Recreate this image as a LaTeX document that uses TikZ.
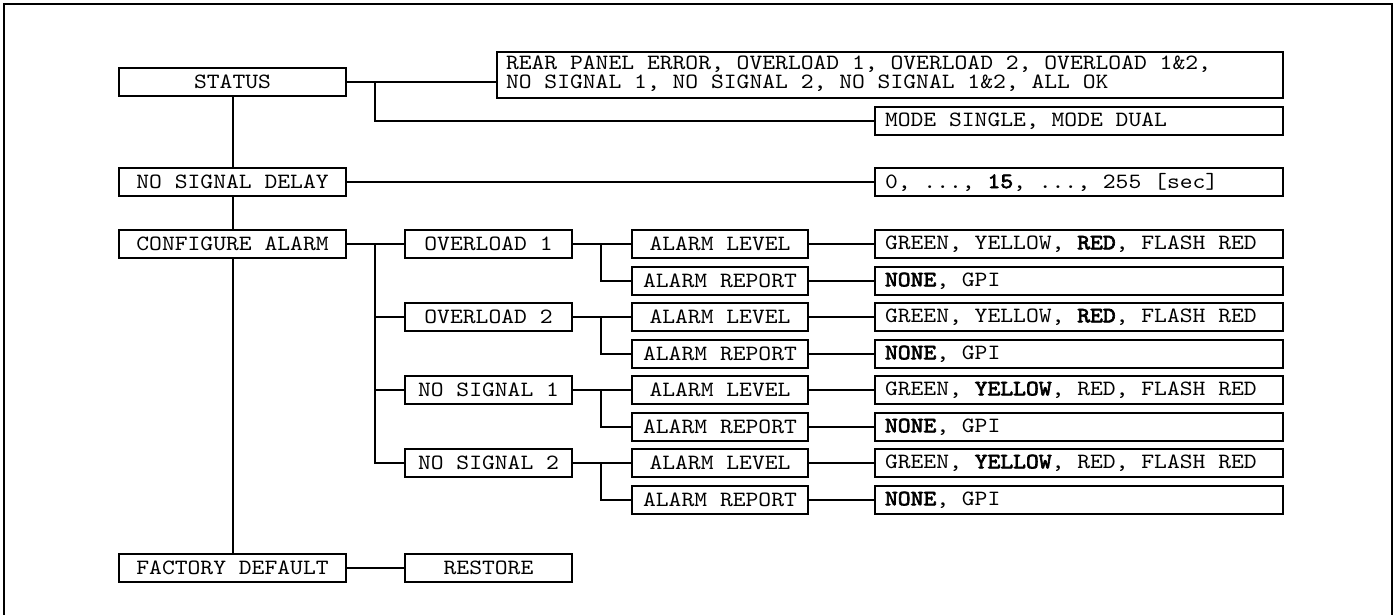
\documentclass[tikz,border=0pt]{standalone}
\usepackage{fontspec}
\newfontfamily\cour[FakeStretch=1.12,BoldFont={lmmono10-regular.otf},BoldFeatures={FakeBold=3}]{lmmono10-regular.otf}
\newcommand\courfont{\fontsize{10.9}{9.4}\selectfont\cour\frenchspacing\spaceskip=6.41pt\relax\xspaceskip=6.41pt\relax}
\newcommand\lft[1]{\makebox[194pt][l]{#1}}
\begin{document}
\begin{tikzpicture}[x=0.5pt,y=-0.5pt,
  box/.style={draw,line width=1pt,inner sep=0pt,minimum height=14pt,
    font=\courfont},
  c1/.style={box,minimum width=113.5pt},
  c2/.style={box,minimum width=83.5pt},
  c3/.style={box,minimum width=88pt},
  c4/.style={box,inner xsep=5pt},
  wire/.style={line width=1pt}]
\useasboundingbox (0,0) rectangle (1397,615);
\draw[line width=1.3pt] (4,620) -- (4,4) -- (1392,4) -- (1392,620);
% column 1
\node[c1] (status) at (232.5,82) {STATUS};
\node[c1] (nsd) at (232.5,182) {NO SIGNAL DELAY};
\node[c1] (ca) at (232.5,244) {CONFIGURE ALARM};
\node[c1] (fd) at (232.5,567.5) {FACTORY DEFAULT};
% status values
\node[box,inner xsep=4.5pt,minimum height=23pt] (rear) at (890,75)
  {\makebox[384pt][l]{\raisebox{-1.5pt}{\begin{tabular}{@{}l@{}}REAR PANEL ERROR, OVERLOAD 1, OVERLOAD 2, OVERLOAD 1\&2,\\NO SIGNAL 1, NO SIGNAL 2, NO SIGNAL 1\&2, ALL OK\end{tabular}}}};
\node[c4] (mode) at (1079,121.5) {\lft{MODE SINGLE, MODE DUAL}};
\node[c4] (delay) at (1079,182) {\lft{0, ..., \textbf{15}, ..., 255 [sec]}};
% column 2
\node[c2] (ov1) at (488.5,244) {OVERLOAD 1};
\node[c2] (ov2) at (488.5,317) {OVERLOAD 2};
\node[c2] (ns1) at (488.5,390) {NO SIGNAL 1};
\node[c2] (ns2) at (488.5,463) {NO SIGNAL 2};
\node[c2] (restore) at (488.5,567.5) {RESTORE};
% column 3 and 4
\foreach \i/\y/\lv in {1/244/{GREEN, YELLOW, \textbf{RED}, FLASH RED},
                      2/317/{GREEN, YELLOW, \textbf{RED}, FLASH RED},
                      3/390/{GREEN, \textbf{YELLOW}, RED, FLASH RED},
                      4/463/{GREEN, \textbf{YELLOW}, RED, FLASH RED}}{
  \node[c3] (al\i) at (720,\y) {ALARM LEVEL};
  \node[c3] (ar\i) at (720,\y+37) {ALARM REPORT};
  \node[c4] (alv\i) at (1079,\y) {\lft{\lv}};
  \node[c4] (arv\i) at (1079,\y+37) {\lft{\textbf{NONE}, GPI}};
  \draw[wire] (al\i) -- (alv\i);
  \draw[wire] (ar\i) -- (arv\i);
}
\coordinate (sb) at (375,82);
\coordinate (cb) at (375,244);
% connectors
\draw[wire] (status.south) -- (nsd.north);
\draw[wire] (nsd.south) -- (ca.north);
\draw[wire] (ca.south) -- (fd.north);
\draw[wire] (status.east) -- (status.east -| rear.west);
\draw[wire] (sb) |- (mode.west);
\draw[wire] (nsd) -- (delay);
\draw[wire] (ca) -- (ov1);
\draw[wire] (cb) |- (ov2.west);
\draw[wire] (cb) |- (ns1.west);
\draw[wire] (cb) |- (ns2.west);
\draw[wire] (fd) -- (restore);
\foreach \p/\i in {ov1/1,ov2/2,ns1/3,ns2/4}{
  \draw[wire] (\p) -- (al\i);
  \coordinate (b\i) at ([xshift=14pt]\p.east);
  \draw[wire] (b\i) |- (ar\i.west);
}
\end{tikzpicture}
\end{document}
